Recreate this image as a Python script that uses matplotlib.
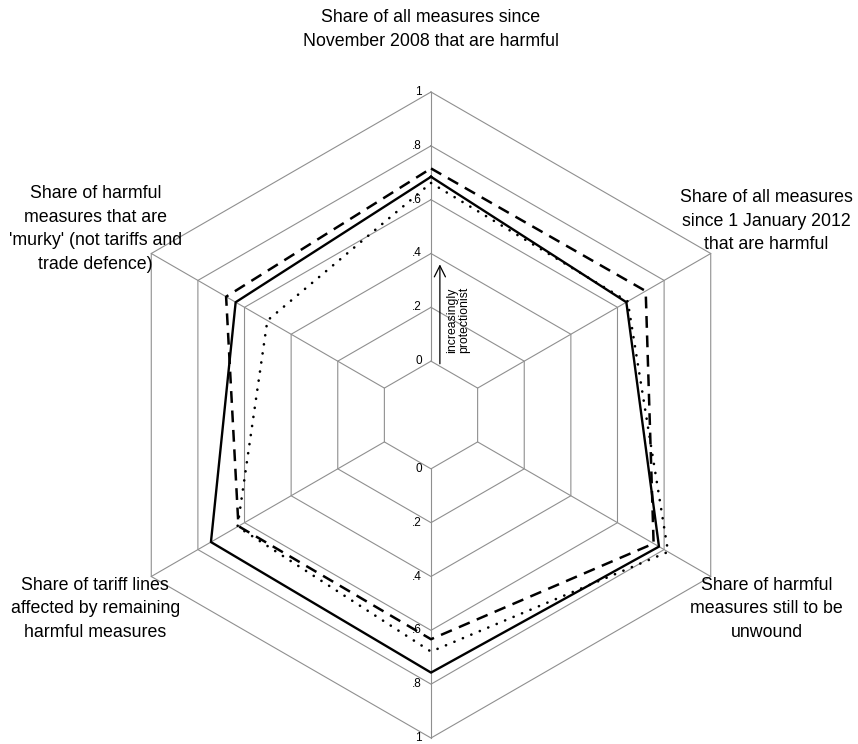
import numpy as np
import matplotlib
matplotlib.use("Agg")
import matplotlib.pyplot as plt

plt.rcParams['font.family'] = ['Liberation Sans', 'DejaVu Sans']
plt.rcParams['lines.scale_dashes'] = False

# axes of the radar, clockwise from the top
axis_labels = [
    "Share of all measures since\nNovember 2008 that are harmful",
    "Share of all measures\nsince 1 January 2012\nthat are harmful",
    "Share of harmful\nmeasures still to be\nunwound",
    "",
    "Share of tariff lines\naffected by remaining\nharmful measures",
    "Share of harmful\nmeasures that are\n'murky' (not tariffs and\ntrade defence)",
]
axis_angles = [90, 30, -30, -90, 210, 150]

levels = [0, 0.2, 0.4, 0.6, 0.8, 1]
level_labels = ["0", ".2", ".4", ".6", ".8", "1"]

# values (same axis order)
series_solid = [0.685, 0.638, 0.778, 0.757, 0.744, 0.638]
series_dashed = [0.716, 0.721, 0.755, 0.633, 0.626, 0.679]
series_dotted = [0.662, 0.644, 0.817, 0.679, 0.630, 0.502]

R0 = 0.2  # the zero ring sits away from the centre


def to_xy(values):
    th = np.deg2rad(axis_angles)
    r = np.asarray(values) + R0
    x = r * np.cos(th)
    y = r * np.sin(th)
    return np.append(x, x[0]), np.append(y, y[0])


fig = plt.figure(figsize=(8.58, 7.44), dpi=100)
ax = fig.add_axes([0, 0, 1, 1])
scale = 323 / 1.2
ax.set_xlim(-431 / scale, (858 - 431) / scale)
ax.set_ylim(-(744 - 415) / scale, 415 / scale)
ax.axis('off')

grid_col = '#8f8f8f'
# hexagonal rings
for lv in levels:
    gx, gy = to_xy([lv] * 6)
    ax.plot(gx, gy, color=grid_col, lw=0.8, zorder=1)
# spokes
for ang in axis_angles:
    t = np.deg2rad(ang)
    ax.plot([R0 * np.cos(t), (1 + R0) * np.cos(t)],
            [R0 * np.sin(t), (1 + R0) * np.sin(t)],
            color=grid_col, lw=0.8, zorder=1)

# level labels on the vertical axes
for ang in (90, -90):
    sgn = np.sin(np.deg2rad(ang))
    for lv, lab in zip(levels, level_labels):
        ax.text(-0.033, sgn * (lv + R0), lab, ha='right', va='center',
                fontsize=8.5, color='black')

# series
x, y = to_xy(series_solid)
ax.plot(x, y, color='black', lw=1.7, zorder=3)
x, y = to_xy(series_dashed)
ax.plot(x, y, color='black', lw=1.8, dashes=(8.5, 5.5), zorder=3)
x, y = to_xy(series_dotted)
ax.plot(x, y, color='black', lw=1.9, dashes=(0.1, 6.5),
        dash_capstyle='round', zorder=3)

# axis labels (radius, angle of the label centre)
label_pos = [(1.432, 90), (1.44, 30), (1.44, -30), (1.44, -90),
             (1.44, 210), (1.425, 151)]
for (rr, ang), lab in zip(label_pos, axis_labels):
    t = np.deg2rad(ang)
    ax.text(rr * np.cos(t), rr * np.sin(t), lab, ha='center', va='center',
            fontsize=12.8, linespacing=1.5)

# arrow + note
ax.annotate("", xy=(0.033, 0.37 + R0), xytext=(0.033, -0.02 + R0),
            arrowprops=dict(arrowstyle='->', color='black', lw=0.9,
                            mutation_scale=20))
ax.text(0.101, 0.353, "increasingly\nprotectionist", rotation=90,
        ha='center', va='center', fontsize=8.8, linespacing=1.1)

fig.savefig("out.png", dpi=100)
